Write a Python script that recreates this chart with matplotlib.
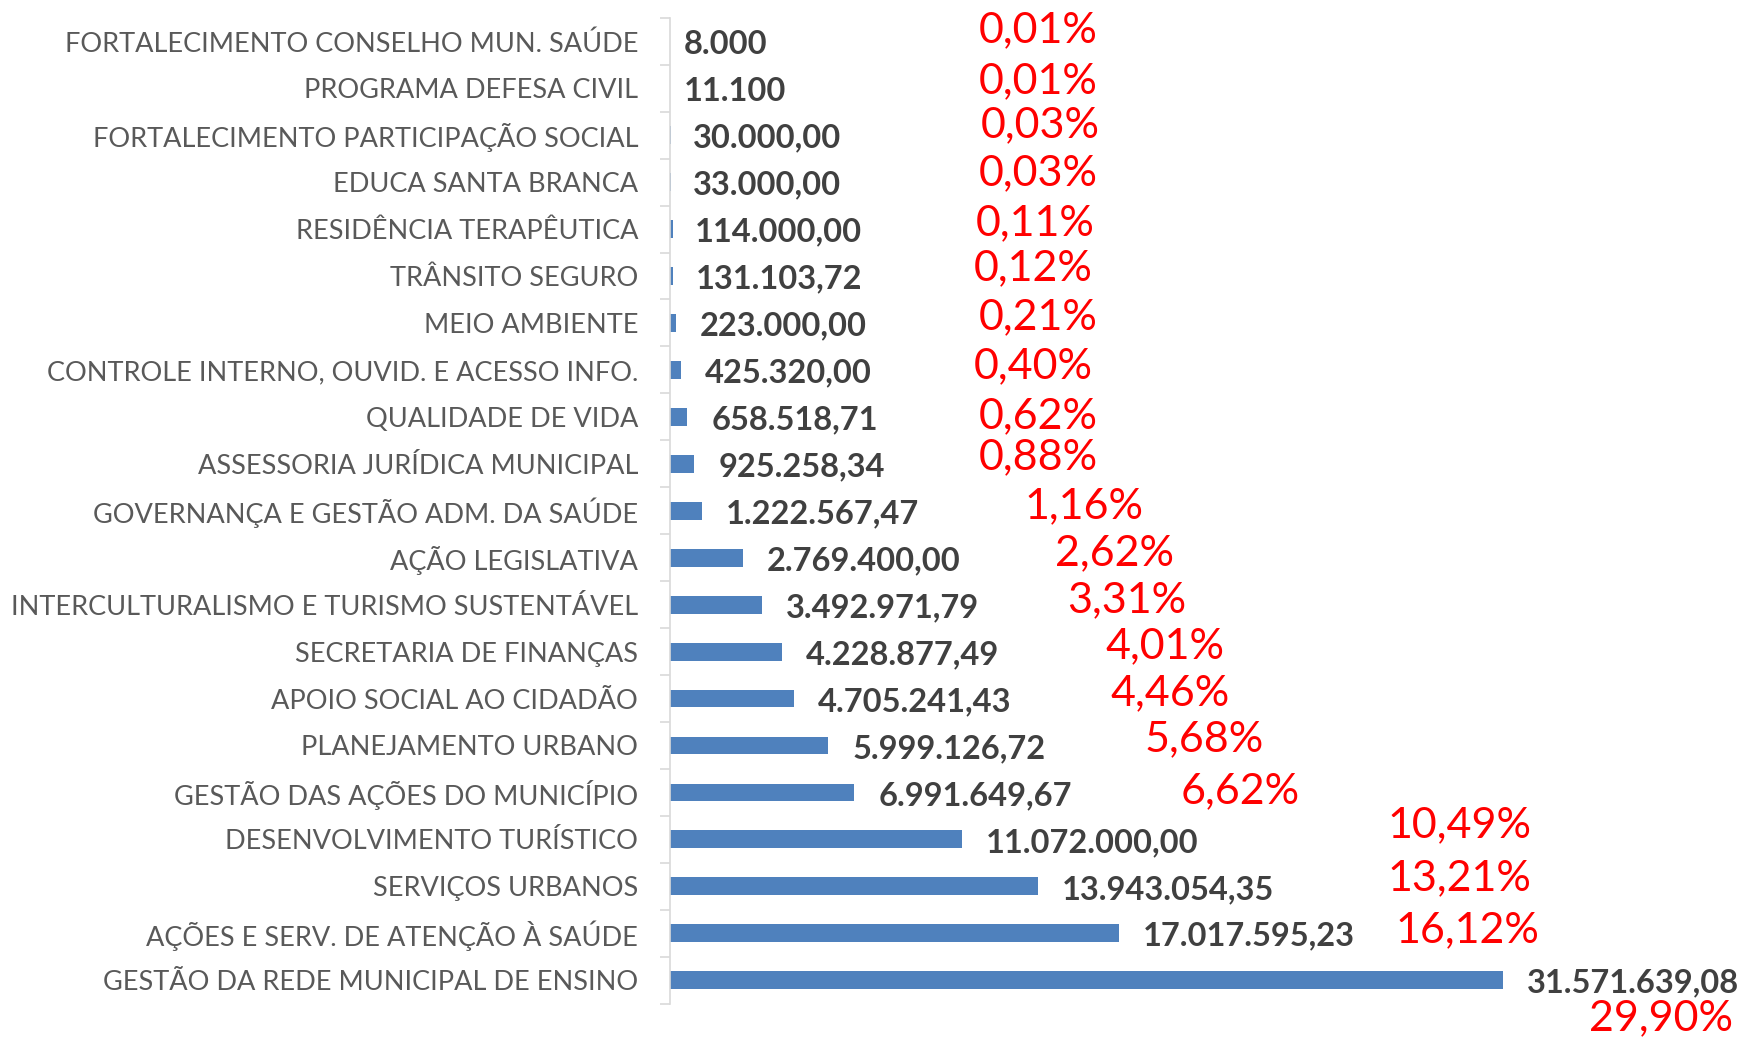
import matplotlib
matplotlib.use("Agg")
import matplotlib.pyplot as plt
import numpy as np
from matplotlib.transforms import blended_transform_factory

categories = [
    "FORTALECIMENTO CONSELHO MUN. SAÚDE",
    "PROGRAMA DEFESA CIVIL",
    "FORTALECIMENTO PARTICIPAÇÃO SOCIAL",
    "EDUCA SANTA BRANCA",
    "RESIDÊNCIA TERAPÊUTICA",
    "TRÂNSITO SEGURO",
    "MEIO AMBIENTE",
    "CONTROLE INTERNO, OUVID. E ACESSO INFO.",
    "QUALIDADE DE VIDA",
    "ASSESSORIA JURÍDICA MUNICIPAL",
    "GOVERNANÇA E GESTÃO ADM. DA SAÚDE",
    "AÇÃO LEGISLATIVA",
    "INTERCULTURALISMO E TURISMO SUSTENTÁVEL",
    "SECRETARIA DE FINANÇAS",
    "APOIO SOCIAL AO CIDADÃO",
    "PLANEJAMENTO URBANO",
    "GESTÃO DAS AÇÕES DO MUNICÍPIO",
    "DESENVOLVIMENTO TURÍSTICO",
    "SERVIÇOS URBANOS",
    "AÇÕES E SERV. DE ATENÇÃO À SAÚDE",
    "GESTÃO DA REDE MUNICIPAL DE ENSINO",
]
values = [8000, 11100, 30000, 33000, 114000, 131103.72, 223000, 425320,
          658518.71, 925258.34, 1222567.47, 2769400, 3492971.79, 4228877.49,
          4705241.43, 5999126.72, 6991649.67, 11072000, 13943054.35,
          17017595.23, 31571639.08]
value_labels = ["8.000", "11.100", "30.000,00", "33.000,00", "114.000,00",
                "131.103,72", "223.000,00", "425.320,00", "658.518,71",
                "925.258,34", "1.222.567,47", "2.769.400,00", "3.492.971,79",
                "4.228.877,49", "4.705.241,43", "5.999.126,72", "6.991.649,67",
                "11.072.000,00", "13.943.054,35", "17.017.595,23",
                "31.571.639,08"]
pct_labels = ["0,01%", "0,01%", "0,03%", "0,03%", "0,11%", "0,12%", "0,21%",
              "0,40%", "0,62%", "0,88%", "1,16%", "2,62%", "3,31%", "4,01%",
              "4,46%", "5,68%", "6,62%", "10,49%", "13,21%", "16,12%", "29,90%"]

# manual placement of the red percentage boxes (figure-x in px, row offset)
pct_x_px = [979, 979, 981, 979, 976, 974, 979, 974, 979, 979, 1024, 1055,
            1067, 1105, 1110, 1145, 1181, 1387, 1387, 1395, 1594]
pct_dy = [-0.24, -0.14, -0.21, -0.19, -0.12, -0.17, -0.12, -0.07, -0.02,
          -0.14, -0.10, -0.10, -0.10, -0.12, -0.12, -0.14, -0.02, -0.31,
          -0.17, -0.07, 0.81]
# label offsets in px (the two first labels sit closer to the axis)
val_dx = [14, 14, 22, 22, 22, 22, 24, 24, 24, 24, 24, 24, 24, 24, 24, 24,
          24, 24, 24, 24, 24]

W, H = 1750, 1038
fig = plt.figure(figsize=(W / 100, H / 100), dpi=100)
ax = fig.add_axes([670 / W, 34.3 / H, 923.5 / W, (1020.2 - 34.3) / H])

FONT = ["Lato", "DejaVu Sans"]
y = np.arange(len(categories))
ax.barh(y, values, height=0.38, color="#4F81BD", linewidth=0)
ax.set_xlim(0, 35e6)
ax.set_ylim(len(categories) - 0.5, -0.5)

ax.set_yticks(y)
ax.set_yticklabels(categories, fontsize=19.5, color="#595959", family=FONT)
ax.tick_params(axis="y", which="major", length=0, pad=23)
ax.set_yticks(np.arange(-0.5, len(categories), 1), minor=True)
ax.tick_params(axis="y", which="minor", length=7, color="#D9D9D9", width=1.2)
ax.set_xticks([])
for s in ["top", "right", "bottom"]:
    ax.spines[s].set_visible(False)
ax.spines["left"].set_color("#D9D9D9")
ax.spines["left"].set_linewidth(1.2)

for yi, v, lab, dx in zip(y, values, value_labels, val_dx):
    ax.annotate(lab, xy=(v, yi), xytext=(dx, -3), textcoords="offset pixels",
                ha="left", va="center", fontsize=23.5, fontweight="bold",
                color="#404040", family=FONT)

tr = blended_transform_factory(fig.transFigure, ax.transData)
for i, (lab, px, dy) in enumerate(zip(pct_labels, pct_x_px, pct_dy)):
    ha = "right" if i == len(pct_labels) - 1 else "left"
    xx = 1733 if ha == "right" else px
    ax.text(xx / W, y[i] + dy, lab, transform=tr, ha=ha, va="center",
            fontsize=31, color="#FF0000", family=FONT, clip_on=False)

fig.savefig("out.png", dpi=100)
